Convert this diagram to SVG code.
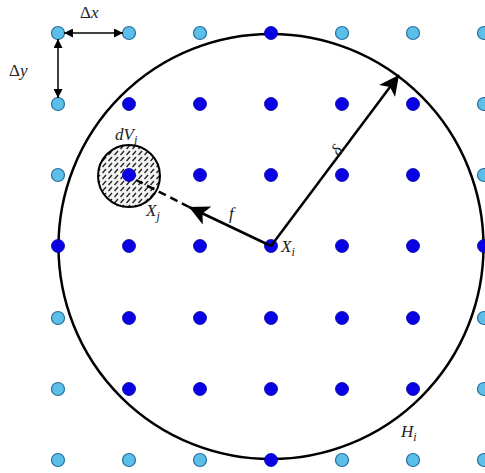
<svg xmlns="http://www.w3.org/2000/svg" width="485" height="473" viewBox="0 0 485 473">
<style>
.lb{fill:#5bbfea;stroke:#2a6f9a;stroke-width:1.2}
.db{fill:#0a00e6;stroke:#00009a;stroke-width:0.8}
.t{font-family:"Liberation Serif","DejaVu Serif",serif;font-size:17px;fill:#222}
.i{font-style:italic}
.s{font-size:12px}
.ln{stroke:#000;fill:none}
</style>
<defs>
<marker id="ah" viewBox="0 0 10 10" refX="10" refY="5" markerWidth="9" markerHeight="9" orient="auto-start-reverse" markerUnits="userSpaceOnUse">
<path d="M0,0 L10,5 L0,10 Z" fill="#000"/>
</marker>
<marker id="big" viewBox="0 0 10 10" refX="10" refY="5" markerWidth="20" markerHeight="20" orient="auto" markerUnits="userSpaceOnUse">
<path d="M0,0 L10,5 L0,10 L2.5,5 Z" fill="#000"/>
</marker>
<pattern id="hatch" width="6" height="6" patternUnits="userSpaceOnUse">
<rect width="6" height="6" fill="#f4f4f4"/>
<path d="M0.5,5 L4,1" stroke="#222" stroke-width="1.4"/>
</pattern>
</defs>
<g id="horizon">
<circle cx="271" cy="246.5" r="212.5" class="ln" stroke-width="2.5"/>
</g>
<g id="volume">
<circle cx="129" cy="176" r="31" fill="url(#hatch)" stroke="#000" stroke-width="2"/>
</g>
<g id="grid">
<circle class="lb" cx="58" cy="33" r="6.5"/><circle class="lb" cx="129" cy="33" r="6.5"/><circle class="lb" cx="200" cy="33" r="6.5"/><circle class="db" cx="271" cy="33" r="6.5"/><circle class="lb" cx="342" cy="33" r="6.5"/><circle class="lb" cx="413" cy="33" r="6.5"/><circle class="lb" cx="484" cy="33" r="6.5"/>
<circle class="lb" cx="58" cy="104" r="6.5"/><circle class="db" cx="129" cy="104" r="6.5"/><circle class="db" cx="200" cy="104" r="6.5"/><circle class="db" cx="271" cy="104" r="6.5"/><circle class="db" cx="342" cy="104" r="6.5"/><circle class="db" cx="413" cy="104" r="6.5"/><circle class="lb" cx="484" cy="104" r="6.5"/>
<circle class="lb" cx="58" cy="175" r="6.5"/><circle class="db" cx="129" cy="175" r="6.5"/><circle class="db" cx="200" cy="175" r="6.5"/><circle class="db" cx="271" cy="175" r="6.5"/><circle class="db" cx="342" cy="175" r="6.5"/><circle class="db" cx="413" cy="175" r="6.5"/><circle class="lb" cx="484" cy="175" r="6.5"/>
<circle class="db" cx="58" cy="246" r="6.5"/><circle class="db" cx="129" cy="246" r="6.5"/><circle class="db" cx="200" cy="246" r="6.5"/><circle class="db" cx="271" cy="246" r="6.5"/><circle class="db" cx="342" cy="246" r="6.5"/><circle class="db" cx="413" cy="246" r="6.5"/><circle class="db" cx="484" cy="246" r="6.5"/>
<circle class="lb" cx="58" cy="318" r="6.5"/><circle class="db" cx="129" cy="318" r="6.5"/><circle class="db" cx="200" cy="318" r="6.5"/><circle class="db" cx="271" cy="318" r="6.5"/><circle class="db" cx="342" cy="318" r="6.5"/><circle class="db" cx="413" cy="318" r="6.5"/><circle class="lb" cx="484" cy="318" r="6.5"/>
<circle class="lb" cx="58" cy="389" r="6.5"/><circle class="db" cx="129" cy="389" r="6.5"/><circle class="db" cx="200" cy="389" r="6.5"/><circle class="db" cx="271" cy="389" r="6.5"/><circle class="db" cx="342" cy="389" r="6.5"/><circle class="db" cx="413" cy="389" r="6.5"/><circle class="lb" cx="484" cy="389" r="6.5"/>
<circle class="lb" cx="58" cy="460" r="6.5"/><circle class="lb" cx="129" cy="460" r="6.5"/><circle class="lb" cx="200" cy="460" r="6.5"/><circle class="db" cx="271" cy="460" r="6.5"/><circle class="lb" cx="342" cy="460" r="6.5"/><circle class="lb" cx="413" cy="460" r="6.5"/><circle class="lb" cx="484" cy="460" r="6.5"/>
</g>
<g id="connectors">
<line x1="64" y1="33" x2="123" y2="33" class="ln" stroke-width="1.5" marker-start="url(#ah)" marker-end="url(#ah)"/>
<line x1="58" y1="39" x2="58" y2="98" class="ln" stroke-width="1.5" marker-start="url(#ah)" marker-end="url(#ah)"/>
<line x1="271" y1="246" x2="399" y2="75" class="ln" stroke-width="2.5" marker-end="url(#big)"/>
<line x1="271" y1="246" x2="189" y2="207" class="ln" stroke-width="2.5" marker-end="url(#big)"/>
<line x1="189" y1="207" x2="136" y2="180" class="ln" stroke-width="2.5" stroke-dasharray="8,5"/>
</g>
<g id="labels">
<text class="t" x="80" y="18"><tspan>Δ</tspan><tspan class="i">x</tspan></text>
<text class="t" x="9" y="76"><tspan>Δ</tspan><tspan class="i">y</tspan></text>
<text class="t i" x="115" y="140">dV<tspan class="s" dy="4">j</tspan></text>
<text class="t i" x="146" y="216">X<tspan class="s" dy="4">j</tspan></text>
<text class="t i" x="229" y="219">f</text>
<text class="t i" x="281" y="252">X<tspan class="s" dy="4">i</tspan></text>
<text class="t i" x="333" y="155" transform="rotate(-53 338 150)">δ</text>
<text class="t i" x="401" y="437">H<tspan class="s" dy="4">i</tspan></text>
</g>
</svg>
